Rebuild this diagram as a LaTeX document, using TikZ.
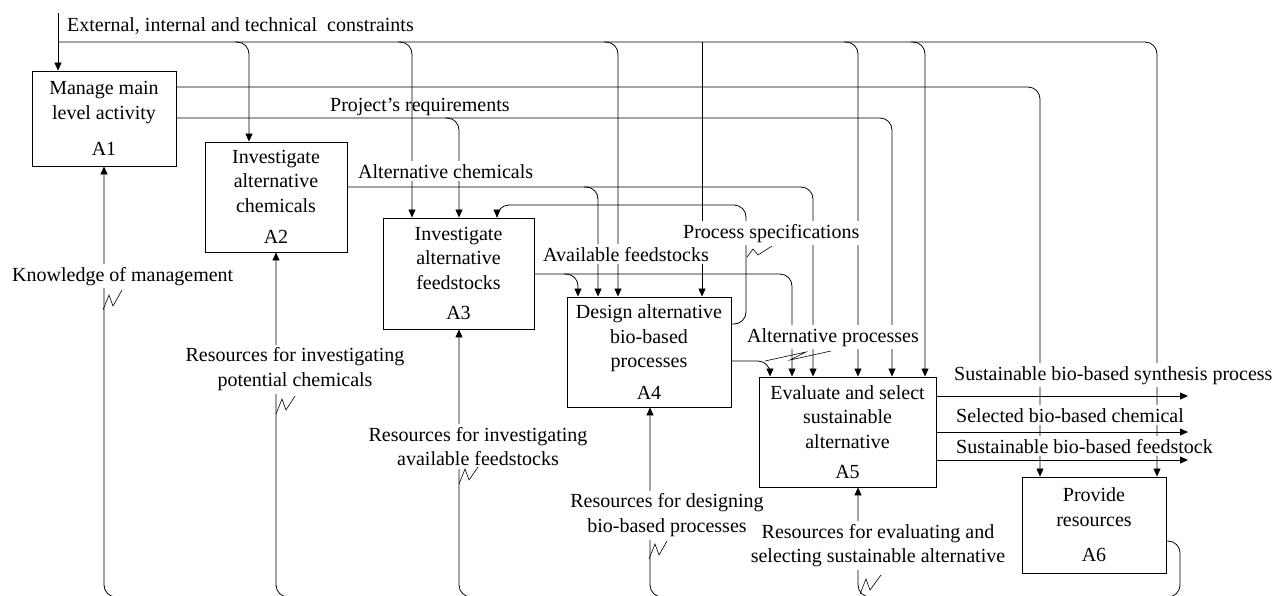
\documentclass[tikz,border=0pt]{standalone}
\usepackage{fontspec}
\setmainfont{Liberation Serif}
\usetikzlibrary{arrows.meta}
\begin{document}
\begin{tikzpicture}[x=1pt,y=-1pt,
  every node/.style={font=\fontsize{20}{24.5}\selectfont},
  box/.style={draw, line width=0.9pt, align=center, inner sep=0pt, fill=white},
  lab/.style={fill=white, inner sep=3pt, align=center},
  lnk/.style={line width=0.8pt, rounded corners=12pt},
  arr/.style={lnk, -{Triangle[length=8pt,width=7pt]}},
  sq/.style={line width=0.6pt}]
\useasboundingbox (0,0) rectangle (1277,595);
\clip (0,0) rectangle (1277,595);
% ---------- activity boxes
\node[box, minimum width=144pt, minimum height=95pt] (A1) at (104,118.5) {Manage main\\level activity\\[12pt]A1};
\node[box, minimum width=142pt, minimum height=110pt] (A2) at (276,197) {Investigate\\alternative\\chemicals\\[7pt]A2};
\node[box, minimum width=151pt, minimum height=111pt] (A3) at (458.5,273.5) {Investigate\\alternative\\feedstocks\\[6pt]A3};
\node[box, minimum width=164pt, minimum height=110pt] (A4) at (649,352) {Design alternative\\bio-based\\processes\\[7pt]A4};
\node[box, minimum width=177pt, minimum height=110pt] (A5) at (847.5,432) {Evaluate and select\\sustainable\\alternative\\[6pt]A5};
\node[box, minimum width=144pt, minimum height=96pt] (A6) at (1094,525) {Provide\\resources\\[11pt]A6};
% ---------- free ends / junctions
\coordinate (ctop) at (58,13);
\coordinate (bus) at (58,42);
\coordinate (o1) at (1188,396);
\coordinate (o2) at (1188,432);
\coordinate (o3) at (1188,460);
% ---------- constraints from top
\draw[arr] (ctop) -- (ctop |- A1.north);
\draw[arr] (bus) -- (1157,42) -- (1157,0 |- A6.north);
\draw[arr] (235,42) -- (249,42) -- (249,0 |- A2.north);
\draw[arr] (398,42) -- (412,42) -- (412,0 |- A3.north);
\draw[arr] (604,42) -- (618,42) -- (618,0 |- A4.north);
\draw[arr] (702,42) -- (702,0 |- A4.north);
\draw[arr] (844,42) -- (858,42) -- (858,0 |- A5.north);
\draw[arr] (911,42) -- (925,42) -- (925,0 |- A5.north);
% ---------- A1 outputs
\draw[arr] (A1.east |- 0,87) -- (1040,87) -- (1040,0 |- A6.north);
\draw[arr] (A1.east |- 0,118) -- (892,118) -- (892,0 |- A5.north);
\draw[arr] (445,118) -- (459,118) -- (459,0 |- A3.north);
% ---------- A2 output
\draw[arr] (A2.east |- 0,187) -- (813,187) -- (813,0 |- A5.north);
\draw[arr] (584,187) -- (598,187) -- (598,0 |- A4.north);
% ---------- A3 output
\draw[arr] (A3.east |- 0,274) -- (792,274) -- (792,0 |- A5.north);
\draw[arr] (564,274) -- (578,274) -- (578,0 |- A4.north);
% ---------- A4 outputs
\draw[arr] (A4.east |- 0,324) -- (746,324) -- (746,205) -- (497,205) -- (497,0 |- A3.north);
\draw[arr] (A4.east |- 0,361) -- (770,361) -- (770,0 |- A5.north);
% ---------- A5 outputs
\draw[arr] (A5.east |- o1) -- (o1);
\draw[arr] (A5.east |- o2) -- (o2);
\draw[arr] (A5.east |- o3) -- (o3);
% ---------- A6 output to mechanisms (bus runs just below the frame)
\draw[arr] (A6.east |- 0,541) -- (1180,541) -- (1180,597) -- (104,597) -- (104,0 |- A1.south);
\draw[arr] (290,597) -- (276,597) -- (276,0 |- A2.south);
\draw[arr] (473,597) -- (459,597) -- (459,0 |- A3.south);
\draw[arr] (664,597) -- (650,597) -- (650,0 |- A4.south);
\draw[arr] (872,597) -- (858,597) -- (858,0 |- A5.south);
% ---------- labels
\node[lab, anchor=base west] (Lc) at (64,31) {External, internal and technical~ constraints};
\node[anchor=base west, inner sep=3pt] (Lr) at (327,111) {Project’s requirements};
\node[lab, anchor=base west] (Lac) at (355,178) {Alternative chemicals};
\node[lab, anchor=base west] (Laf) at (540,261) {Available feedstocks};
\node[lab, anchor=base west] (Lps) at (680,238) {Process specifications};
\node[lab, anchor=base west] (Lap) at (744,342) {Alternative processes};
\node[lab, anchor=base west] (Lkm) at (9,281) {Knowledge of management};
\node[lab] (Lm2) at (295,369.3) {Resources for investigating\\potential chemicals};
\node[lab] (Lm3) at (478,446.3) {Resources for investigating\\available feedstocks};
\node[lab] (Lm4) at (667,515.3) {Resources for designing\\bio-based processes};
\node[lab] (Lm5) at (878,545.8) {Resources for evaluating and\\selecting sustainable alternative};
\node[lab, anchor=base west] (Lo1) at (951,380) {Sustainable bio-based synthesis process};
\node[lab, anchor=base west] (Lo2) at (953,422) {Selected bio-based chemical};
\node[lab, anchor=base west] (Lo3) at (953,453) {Sustainable bio-based feedstock};
% ---------- squiggles
\draw[sq] (103,310) -- (109,295) -- (113,306) -- (122,290);
\draw[sq] (276,414) -- (282,399) -- (286,410) -- (295,396);
\draw[sq] (459,484) -- (465,469) -- (469,480) -- (478,467);
\draw[sq] (649,559) -- (655,544) -- (659,555) -- (667,541);
\draw[sq] (860,594) -- (866,579) -- (870,590) -- (881,575);
\draw[sq] (747,257) -- (753,249) -- (758,255) -- (772,246);
\draw[sq] (765,361) -- (806,352) -- (790,360) -- (831,351);
\end{tikzpicture}
\end{document}
